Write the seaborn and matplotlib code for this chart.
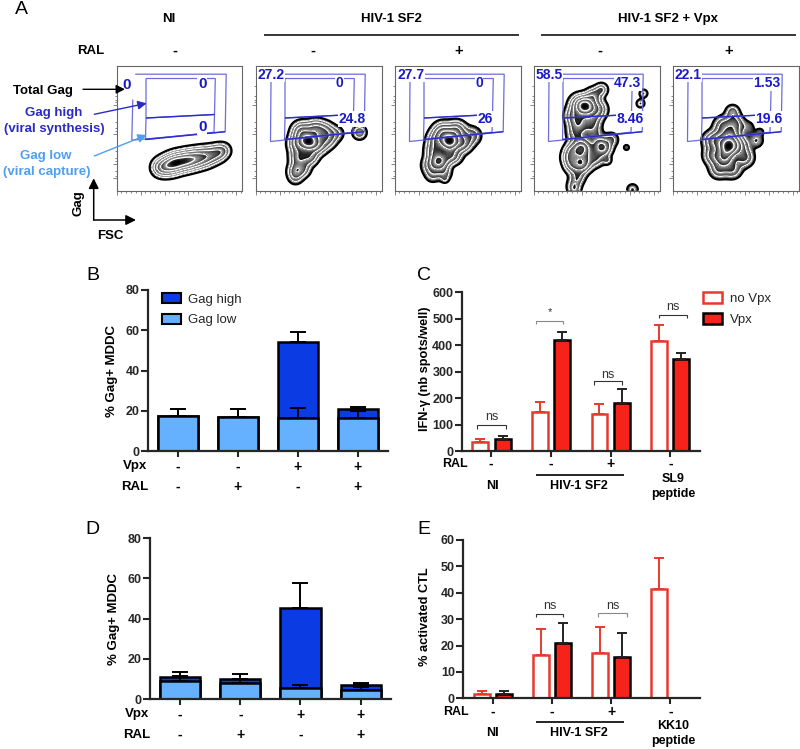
import numpy as np
import pandas as pd
import seaborn as sns
import matplotlib
matplotlib.use('Agg')
import matplotlib.pyplot as plt
from matplotlib.patches import Patch

# --- values ---
CONDITIONS = ['a', 'b', 'c', 'd']
B_TOTAL = [17.5, 17, 54, 21]
B_TOTAL_ERR = [21, 21, 59, 22]
B_LOW = [17.5, 17, 16.5, 16.5]
B_LOW_ERR = [21, 21, 21.5, 20]

D_TOTAL = [11, 10, 45.2, 7]
D_TOTAL_ERR = [13.5, 12.2, 57.5, 7.8]
D_LOW = [9, 8.2, 5.3, 4.5]
D_LOW_ERR = [11.5, 10, 6.8, 6]

VPX_ROW = ['-', '-', '+', '+']
RAL_ROW = ['-', '+', '-', '+']

GROUPS = ['g1', 'g2', 'g3', 'g4']
C_NOVPX = [35, 148, 140, 417]
C_NOVPX_ERR = [47, 186, 176, 476]
C_VPX = [45, 420, 180, 348]
C_VPX_ERR = [57, 450, 233, 370]

E_NOVPX = [1.7, 16.5, 17.2, 41.5]
E_NOVPX_ERR = [2.7, 26.3, 27, 53]
E_VPX = [1.7, 21, 15.5, np.nan]
E_VPX_ERR = [2.7, 28.5, 24.7, np.nan]

# flow plots: population lumps, as x, y, weight, spread (pixels from panel corner)
FLOW_NI = [(44, 102, .5, 5.5), (52, 100, .8, 6), (60, 97, 1, 6), (70, 95, 1, 6), (80, 93, .8, 6), (90, 91, .6, 6),
           (100, 88, .45, 5.5), (107, 85, .25, 5)]
FLOW_SF2 = [(53, 76, 1, 6), (46, 66, .5, 6), (60, 64, .45, 6), (70, 66, .3, 6), (42, 78, .4, 6), (62, 80, .4, 6), (44, 92, .4, 6),
            (55, 92, .3, 5), (40, 105, .3, 5), (48, 104, .2, 5), (72, 74, .25, 6), (82, 68, .12, 5), (40, 112, .15, 5), (104, 67, .25, 4.5)]
FLOW_SF2_RAL = [(55, 76, 1, 6), (48, 66, .4, 6), (62, 65, .4, 6), (42, 74, .3, 6), (68, 78, .35, 6), (45, 96, .6, 6), (40, 85, .3, 6),
                (56, 90, .3, 5), (62, 92, .1, 5), (78, 70, .18, 6), (36, 100, .2, 6), (38, 110, .12, 5), (50, 108, .15, 5), (50.5, 114, .08, 2.5)]
FLOW_VPX = [(52, 41, 1, 6), (45, 38, .3, 6), (60, 30, .3, 5), (68, 24, .25, 4), (40, 50, .25, 6), (64, 44, .35, 6), (45, 58, .3, 6),
            (58, 56, .25, 6), (42, 68, .2, 6), (60, 68, .15, 6), (48, 83, .7, 6), (48, 98, .6, 6), (36, 92, .3, 5), (38, 85, .25, 5), (38, 100, .25, 5),
            (67, 80, .35, 5), (62, 92, .25, 6), (72, 84, .2, 5), (78, 74, .15, 5), (93, 82, .1, 2.5), (74, 95, .12, 3), (44, 112, .2, 5), (40, 120, .12, 5),
            (41, 124, .15, 4), (99, 124, .15, 4), (110, 28, .15, 3), (107, 38, .15, 3)]
FLOW_VPX_RAL = [(56, 81, 1, 6), (52, 92, .6, 6), (58, 70, .45, 6), (46, 75, .35, 6), (66, 80, .35, 6), (40, 90, .3, 6), (38, 75, .2, 6),
                (50, 60, .25, 6), (62, 58, .3, 6), (60, 46, .2, 4.5), (72, 92, .3, 6), (84, 75, .15, 5), (46, 104, .25, 6), (60, 104, .25, 6),
                (76, 62, .1, 5), (88, 66, .08, 3)]
FLOW_PANELS = [FLOW_NI, FLOW_SF2, FLOW_SF2_RAL, FLOW_VPX, FLOW_VPX_RAL]
FLOW_LEFT = [116.5, 255.5, 394.5, 533.5, 672.5]
FLOW_RAL = ['-', '-', '+', '-', '+']
FLOW_RAL_X = [175, 313.3, 459, 600, 728.3]
FLOW_LEVELS = [.05, .11, .2, .35, .55, .8]

GATE_LABELS = [
    [('0', 126.7, 85), ('0', 202.3, 84.3), ('0', 202.3, 127)],
    [('27.2', 271, 74.7), ('0', 339.7, 82.7), ('24.8', 352, 119)],
    [('27.7', 411, 74.7), ('0', 479, 82.7), ('26', 485.3, 119)],
    [('58.5', 548.7, 74.7), ('47.3', 627.7, 83), ('8.46', 630, 119)],
    [('22.1', 687.7, 74.7), ('1.53', 767, 83), ('19.6', 769, 119)],
]

GAG_HIGH = '#0b3be2'
GAG_LOW = '#66b1ff'
RED = '#f5231a'
RED_EDGE = '#e8392e'
GATE = '#6c6cdc'
LABEL_BLUE = '#1a1ac8'

sns.set_style('ticks')
plt.rcParams['font.family'] = ['Liberation Sans', 'DejaVu Sans']
plt.rcParams['font.size'] = 9

W, H = 800, 749
fig = plt.figure(figsize=(W / 100, H / 100), dpi=100)


def px_axes(left, top, right, bottom, **kws):
    return fig.add_axes([left / W, 1 - bottom / H, (right - left) / W, (bottom - top) / H], **kws)


# overlay in picture pixels for all the figure annotations
over = px_axes(0, 0, W, H, zorder=10)
over.set_xlim(0, W)
over.set_ylim(H, 0)
over.axis('off')


def txt(x, y, s, size=9, weight='bold', color='black', **kws):
    kws.setdefault('ha', 'center')
    kws.setdefault('va', 'center')
    over.text(x, y, s, fontsize=size, fontweight=weight, color=color, **kws)


def line(xs, ys, color='black', lw=1.0):
    over.plot(xs, ys, color=color, lw=lw, solid_capstyle='butt', solid_joinstyle='miter')


def arrow(x0, y0, x1, y1, color='black', lw=1.0, head=11):
    over.annotate('', xy=(x1, y1), xytext=(x0, y0),
                  arrowprops=dict(arrowstyle='-|>', color=color, lw=lw, mutation_scale=head, shrinkA=0, shrinkB=0))


def bracket(x0, x1, top, bottom, label, label_y, color='#333333', size=9):
    line([x0, x0, x1, x1], [bottom, top, top, bottom], color=color, lw=0.8)
    txt((x0 + x1) / 2, label_y, label, size=size, weight='normal', color='#333333')


def zebra_bands(levels):
    # each band fades dark to pale going inwards, the peak itself is black
    edges, colors = [], []
    for lo, hi in zip(levels[:-1], levels[1:]):
        sub = np.linspace(lo, hi, 13)[:-1]
        edges.extend(sub)
        colors.extend(plt.cm.gray(np.linspace(.03, .62, 12)))
    top = np.linspace(levels[-1], 1.001, 13)
    edges.extend(top)
    colors.extend(plt.cm.gray(np.linspace(.5, .0, 12)))
    return edges, colors


def flow_panel(left, points):
    ax = px_axes(left, 65.5, left + 126, 190.5)
    ax.set_facecolor('white')
    lumps = pd.DataFrame(points, columns=['fsc', 'gag', 'w', 's'])
    gx, gy = np.meshgrid(np.linspace(0, 126, 380), np.linspace(0, 125, 380))
    dens = np.zeros_like(gx)
    for r in lumps.itertuples():
        dens += r.w * np.exp(-((gx - r.fsc) ** 2 + (gy - r.gag) ** 2) / (2 * r.s ** 2))
    dens /= dens.max()
    edges, colors = zebra_bands(FLOW_LEVELS)
    ax.contourf(gx, gy, dens, levels=edges, colors=colors, antialiased=False)
    ax.contour(gx, gy, dens, levels=FLOW_LEVELS[:1], colors='black', linewidths=1.5)
    ax.contour(gx, gy, dens, levels=FLOW_LEVELS[1:], colors='white', linewidths=.9)
    ax.set_xlim(0, 126)
    ax.set_ylim(125, 0)
    ax.set_xticks(np.arange(0, 126, 24))
    ax.set_xticks(np.arange(0, 126, 4.8), minor=True)
    ax.set_yticks([39, 68, 98, 112])
    ax.set_yticks([20, 30, 34, 36, 56, 62, 65, 85, 92, 95, 105, 110], minor=True)
    ax.set_xticklabels([])
    ax.set_yticklabels([])
    ax.tick_params(which='major', length=3, width=.5, color='#555555')
    ax.tick_params(which='minor', length=1.5, width=.5, color='#555555')
    for s in ax.spines.values():
        s.set_linewidth(.8)
        s.set_color('#666666')


def gates(left, first):
    top = 65.5
    if first:
        outer_x, outer_y = [16.3, 15.3, 108.7, 109.7, 18.7], [34, 74.7, 66.2, 8.7, 8.7]
    else:
        outer_x, outer_y = [15.5, 15, 108.7, 109.7, 15.5, 15.5], [16.3, 76, 66.2, 8.7, 8.7, 16.3]
    line([left + v for v in outer_x], [top + v for v in outer_y], color=GATE, lw=.9)
    line([left + v for v in [29.5, 98.8, 98, 29.5, 29.5]], [top + v for v in [13, 13, 49, 52.5, 13]], color=GATE, lw=.9)
    line([left + v for v in [29.5, 29, 97.5, 98]], [top + v for v in [52.5, 74, 66.7, 49]], color=GATE, lw=.9)
    line([left + v for v in [29.5, 98]], [top + v for v in [52.5, 49]], color='#2a2ad0', lw=1.0)
    line([left + v for v in [29, 108.7]], [top + v for v in [74, 66.2]], color='#2a2ad0', lw=1.0)


for i, (left, points) in enumerate(zip(FLOW_LEFT, FLOW_PANELS)):
    flow_panel(left, points)
    gates(left, i == 0)
    for s, x, y in GATE_LABELS[i]:
        txt(x, y, s, size=11 if i == 0 else 10, color=LABEL_BLUE, bbox=dict(fc='white', ec='none', pad=.4))
    txt(FLOW_RAL_X[i], 51, FLOW_RAL[i], size=10.5)

txt(21, 9, 'A', size=14, weight='normal')
txt(168.7, 19.3, 'NI', size=9.5)
txt(391, 19.3, 'HIV-1 SF2', size=9.5)
txt(667.7, 19.3, 'HIV-1 SF2 + Vpx', size=9.5)
line([264.3, 519.3], [35, 35], lw=1.1)
line([541, 796], [35, 35], lw=1.1)
txt(91, 50.7, 'RAL', size=9.5)
txt(43, 90.7, 'Total Gag', size=9.5)
arrow(83, 89.3, 125, 89.3, head=13)
txt(54, 113.3, 'Gag high', size=9.5, color='#2a2ac8')
txt(54.3, 129.3, '(viral synthesis)', size=9.5, color='#2a2ac8')
arrow(94.3, 114.3, 146.7, 103.3, color='#2a2ac8', head=13)
txt(45.7, 155.7, 'Gag low', size=9.5, color='#4f9ff0')
txt(47, 171.7, '(viral capture)', size=9.5, color='#4f9ff0')
arrow(94.3, 156, 146.7, 135, color='#4f9ff0', head=13)
arrow(93.7, 220, 93.7, 178.3, lw=1.1, head=15)
arrow(93.7, 220, 136, 220, lw=1.1, head=15)
txt(78.3, 203.3, 'Gag', size=9.5, rotation=90)
txt(110.7, 236, 'FSC', size=9.5)


def style_bar_axes(ax, ymax, step):
    ax.set_ylim(0, ymax)
    ax.set_xlim(-.5, 3.5)
    ax.set_yticks(np.arange(0, ymax + step, step))
    ax.set_xlabel('')
    ax.set_ylabel('')
    ax.set_xticklabels([])
    ax.tick_params(axis='y', length=5, width=1.5, pad=1, labelsize=9)
    ax.tick_params(axis='x', length=4.5, width=1.5)
    for t in ax.get_yticklabels():
        t.set_fontweight('bold')
    sns.despine(ax=ax)
    for s in ['left', 'bottom']:
        ax.spines[s].set_linewidth(1.6)
    ax.patch.set_alpha(0)


def stacked_panel(box, total, total_err, low, low_err):
    ax = px_axes(*box)
    sns.barplot(x=CONDITIONS, y=total, color=GAG_HIGH, saturation=1, width=.667, linewidth=1.8, edgecolor='black', ax=ax)
    sns.barplot(x=CONDITIONS, y=low, color=GAG_LOW, saturation=1, width=.667, linewidth=1.8, edgecolor='black', ax=ax)
    xs = np.arange(len(total))
    ax.errorbar(xs, total, yerr=[np.zeros(4), np.subtract(total_err, total)], fmt='none', ecolor='black', elinewidth=1.4, capsize=6, capthick=1.4, zorder=1)
    ax.errorbar(xs, low, yerr=[np.zeros(4), np.subtract(low_err, low)], fmt='none', ecolor='black', elinewidth=1.4, capsize=6, capthick=1.4, zorder=3)
    style_bar_axes(ax, 80, 20)
    for i in range(4):
        x_px = box[0] + (i + .5) * (box[2] - box[0]) / 4
        txt(x_px, box[3] + 15.5, VPX_ROW[i], size=10)
        txt(x_px, box[3] + 35.5, RAL_ROW[i], size=10)
    txt(box[0] - 13, box[3] + 15.5, 'Vpx', size=9.5)
    txt(box[0] - 13, box[3] + 35.5, 'RAL', size=9.5)
    txt(box[0] - 36.5, (box[1] + box[3]) / 2 + .5, '% Gag+ MDDC', size=9.5, rotation=90)
    return ax


def grouped_panel(box, ymax, step, novpx, novpx_err, vpx, vpx_err):
    ax = px_axes(*box)
    d = pd.DataFrame({'group': GROUPS * 2, 'value': novpx + vpx, 'kind': ['no Vpx'] * 4 + ['Vpx'] * 4})
    sns.barplot(data=d, x='group', y='value', hue='kind', palette={'no Vpx': 'white', 'Vpx': RED}, saturation=1,
                width=.75, gap=.29, legend=False, ax=ax)
    for cont, edge in zip(ax.containers, [RED_EDGE, 'black']):
        for bar in cont:
            bar.set_edgecolor(edge)
            bar.set_linewidth(1.8)
    xs = np.arange(4)
    for off, vals, errs, col in [(-.1875, novpx, novpx_err, RED_EDGE), (.1875, vpx, vpx_err, '#222222')]:
        ax.errorbar(xs + off, vals, yerr=[np.zeros(4), np.subtract(errs, vals)], fmt='none', ecolor=col,
                    elinewidth=1.4, capsize=3.8, capthick=1.4, zorder=1)
    style_bar_axes(ax, ymax, step)
    return ax


# panel B
ax_b = stacked_panel((148, 290, 388, 451), B_TOTAL, B_TOTAL_ERR, B_LOW, B_LOW_ERR)
txt(93, 276, 'B', size=14, weight='normal')
ax_b.legend(handles=[Patch(fc=GAG_HIGH, ec='black', lw=1.5, label='Gag high'), Patch(fc=GAG_LOW, ec='black', lw=1.5, label='Gag low')],
            loc='upper left', bbox_to_anchor=(158 / W, 1 - 289 / H), bbox_transform=fig.transFigure, frameon=False,
            prop=dict(size=9.5), handlelength=1.45, handleheight=.8, handletextpad=.55, labelspacing=.62, borderpad=.3, borderaxespad=0)

# panel D
stacked_panel((150, 538.3, 390.7, 699), D_TOTAL, D_TOTAL_ERR, D_LOW, D_LOW_ERR)
txt(92.7, 530, 'D', size=14, weight='normal')

# panel C
ax_c = grouped_panel((461.7, 292.3, 700, 451), 600, 100, C_NOVPX, C_NOVPX_ERR, C_VPX, C_VPX_ERR)
txt(424, 276, 'C', size=14, weight='normal')
txt(425, 369, 'IFN-\u03b3 (nb spots/well)', size=9.2, rotation=90)
txt(455, 464, 'RAL', size=9)
for x, s in zip([491, 551, 610.7, 670.7], ['-', '-', '+', '-']):
    txt(x, 464, s, size=10)
line([535.7, 624], [474.5, 474.5], lw=1.2)
txt(492, 485.7, 'NI', size=9)
txt(579, 485.7, 'HIV-1 SF2', size=9)
txt(672.7, 478.5, 'SL9', size=9)
txt(673.3, 493.5, 'peptide', size=9)
bracket(477.3, 505.7, 425, 428.5, 'ns', 417.5)
bracket(535.7, 563.3, 320.7, 324.3, '*', 312.5, color='#888888', size=8)
bracket(594, 622, 381.3, 385, 'ns', 375)
bracket(658.7, 686.7, 314.7, 318.3, 'ns', 307)
ax_c.legend(handles=[Patch(fc='white', ec=RED_EDGE, lw=1.8, label='no Vpx'), Patch(fc=RED, ec='black', lw=1.8, label='Vpx')],
            loc='upper left', bbox_to_anchor=(702.7 / W, 1 - 292.3 / H), bbox_transform=fig.transFigure, frameon=False,
            prop=dict(size=9.5), handlelength=1.45, handleheight=.85, handletextpad=.6, labelspacing=.62, borderpad=0, borderaxespad=0)

# panel E
grouped_panel((463.3, 540, 700, 698.3), 60, 10, E_NOVPX, E_NOVPX_ERR, E_VPX, E_VPX_ERR)
txt(424, 530, 'E', size=14, weight='normal')
txt(425, 616.7, '% activated CTL', size=9.2, rotation=90)
txt(455.7, 711.7, 'RAL', size=9)
for x, s in zip([492.3, 552, 611.7, 671], ['-', '-', '+', '-']):
    txt(x, 712, s, size=10)
line([535.7, 624], [721.7, 721.7], lw=1.2)
txt(492, 732.7, 'NI', size=9)
txt(579, 733.3, 'HIV-1 SF2', size=9)
txt(673.3, 725.7, 'KK10', size=9)
txt(673.3, 741, 'peptide', size=9)
bracket(535.7, 563.3, 614, 617.3, 'ns', 606)
bracket(598.3, 626.7, 613.3, 617.3, 'ns', 606, color='#888888')

fig.savefig('out.png', dpi=100)
